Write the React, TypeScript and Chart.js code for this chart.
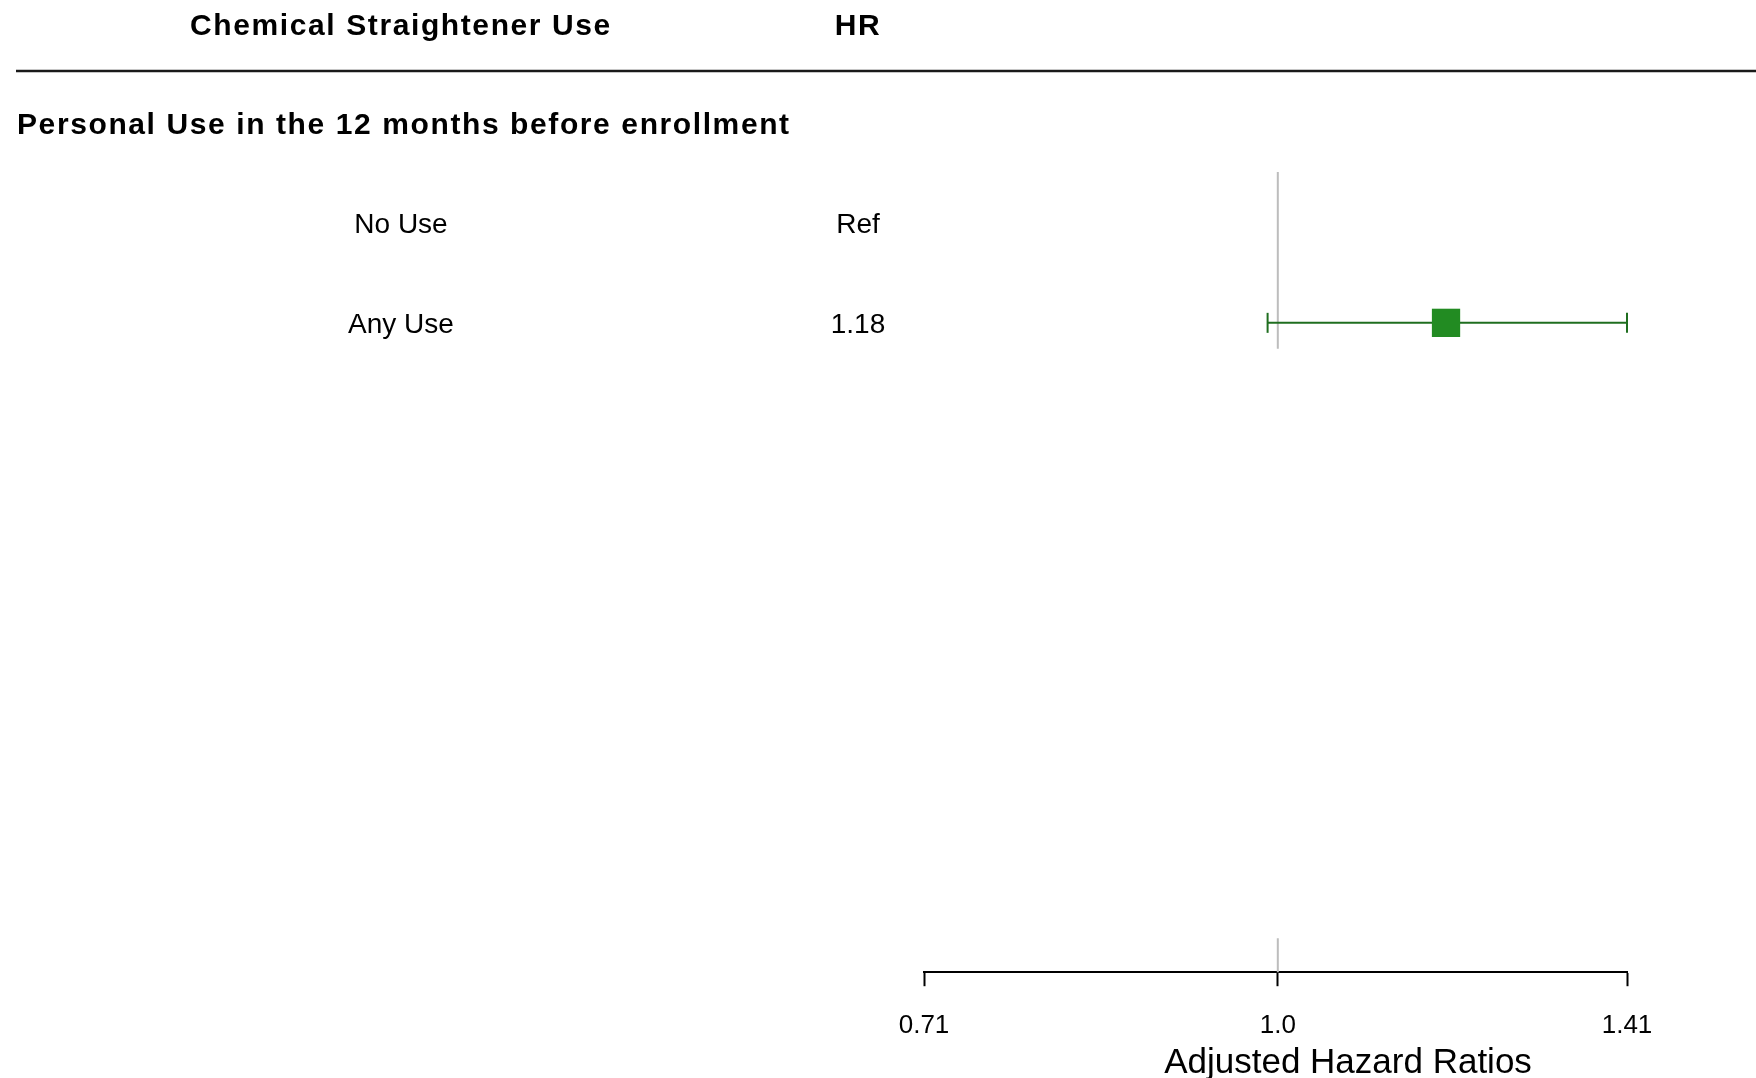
import React, { useEffect, useRef } from "react";
import { Chart, registerables } from "chart.js";

Chart.register(...registerables);

// ---- data ----
const columnHeaders = ["Chemical Straightener Use", "HR"];
const groupLabel = "Personal Use in the 12 months before enrollment";
const categories = ["No Use", "Any Use"];
const hrLabels = ["Ref", "1.18"];
const hrValues: (number | null)[] = [null, 1.18];
const ciLower: (number | null)[] = [null, 0.99];
const ciUpper: (number | null)[] = [null, 1.41];
const axisMin = 0.706;
const axisMax = 1.41;
const tickValues = [0.706, 1.0, 1.41];
const tickLabels = ["0.71", "1.0", "1.41"];
const xAxisTitle = "Adjusted Hazard Ratios";
const referenceValue = 1;

// ---- layout (rows: 0 = header, 1 = group, 2.. = categories) ----
const HEADER_ROW = 0.01;
const GROUP_ROW = 1;
const FIRST_CAT_ROW = 2;
const Y_MIN = 1.49;
const Y_MAX = 9.5;
const RULE_ROW = 0.48;
const REF_SEGMENTS: [number, number][] = [
  [1.49, 3.26],
  [9.16, 9.5],
];
const COL1_X = 401;
const COL2_X = 858;
const GROUP_X = 17;
const TITLE_X = 1348;
const TITLE_Y = 1060;
const FONT = "'Liberation Sans', Arial, sans-serif";

const GREEN_BOX = "#228B22";
const GREEN_LINE = "#1f6e1f";

const textPlugin = {
  id: "forestText",
  afterDraw(chart: any) {
    const ctx: CanvasRenderingContext2D = chart.ctx;
    const ys = chart.scales.y;
    const put = (
      text: string,
      x: number,
      yPix: number,
      size: number,
      bold: boolean,
      align: CanvasTextAlign,
      spacing: string
    ) => {
      ctx.font = `${bold ? "bold " : ""}${size}px ${FONT}`;
      ctx.textAlign = align;
      ctx.textBaseline = "alphabetic";
      (ctx as any).letterSpacing = spacing;
      ctx.fillStyle = "#000";
      ctx.fillText(text, x, yPix + 0.358 * size);
    };
    ctx.save();
    // header
    const hy = ys.getPixelForValue(HEADER_ROW);
    put(columnHeaders[0], COL1_X, hy, 30, true, "center", "1.6px");
    put(columnHeaders[1], COL2_X, hy, 30, true, "center", "1.6px");
    // rule
    const ry = ys.getPixelForValue(RULE_ROW);
    ctx.beginPath();
    ctx.strokeStyle = "#1a1a1a";
    ctx.lineWidth = 2.5;
    ctx.moveTo(16, ry);
    ctx.lineTo(chart.width, ry);
    ctx.stroke();
    // group label
    put(groupLabel, GROUP_X, ys.getPixelForValue(GROUP_ROW), 30, true, "left", "1.6px");
    // rows
    categories.forEach((c, i) => {
      const y = ys.getPixelForValue(FIRST_CAT_ROW + i);
      put(c, COL1_X, y, 28, false, "center", "0px");
      put(hrLabels[i], COL2_X, y, 28, false, "center", "0px");
    });
    // axis title
    put(xAxisTitle, TITLE_X, TITLE_Y, 35, false, "center", "0px");
    ctx.restore();
  },
};

export default function App() {
  const ref = useRef<HTMLCanvasElement | null>(null);

  useEffect(() => {
    if (!ref.current) return;

    const boxData: { x: number; y: number }[] = [];
    const ciSets: any[] = [];
    hrValues.forEach((v, i) => {
      const row = FIRST_CAT_ROW + i;
      if (v !== null) boxData.push({ x: v, y: row });
      const lo = ciLower[i];
      const hi = ciUpper[i];
      if (lo !== null && hi !== null) {
        ciSets.push({
          type: "line",
          data: [
            { x: lo, y: row },
            { x: hi, y: row },
          ],
          borderColor: GREEN_LINE,
          borderWidth: 2,
          pointStyle: "line",
          pointRotation: 90,
          pointRadius: 10,
          pointBorderWidth: 2,
          pointBorderColor: GREEN_LINE,
          pointBackgroundColor: GREEN_LINE,
          clip: false,
          order: 1,
        });
      }
    });

    const refData: { x: number; y: number | null }[] = [];
    REF_SEGMENTS.forEach(([a, b], k) => {
      if (k > 0) refData.push({ x: referenceValue, y: null });
      refData.push({ x: referenceValue, y: a });
      refData.push({ x: referenceValue, y: b });
    });

    const chart = new Chart(ref.current, {
      type: "scatter",
      data: {
        datasets: [
          {
            type: "scatter",
            data: boxData,
            pointStyle: "rect",
            pointRadius: 20,
            pointBackgroundColor: GREEN_BOX,
            pointBorderColor: GREEN_BOX,
            pointBorderWidth: 0,
            clip: false,
            order: 0,
          } as any,
          ...ciSets,
          {
            type: "line",
            data: refData,
            borderColor: "#bdbdbd",
            borderWidth: 2,
            pointRadius: 0,
            spanGaps: false,
            clip: false,
            order: 2,
          } as any,
        ],
      },
      options: {
        responsive: false,
        animation: false,
        devicePixelRatio: 1,
        layout: { padding: { left: 924, right: 129, top: 172, bottom: 12.6 } },
        plugins: {
          legend: { display: false },
          tooltip: { enabled: false },
        },
        scales: {
          x: {
            type: "logarithmic",
            position: "bottom",
            min: axisMin,
            max: axisMax,
            bounds: "data",
            afterBuildTicks: (s: any) => {
              s.ticks = tickValues.map((v) => ({ value: v }));
            },
            ticks: {
              callback: (_v: any, i: number) => tickLabels[i],
              font: { family: FONT, size: 26, lineHeight: 1.2 },
              color: "#000",
              padding: 24,
              maxRotation: 0,
              minRotation: 0,
              autoSkip: false,
            },
            grid: {
              display: true,
              drawOnChartArea: false,
              drawTicks: true,
              tickLength: 14,
              tickWidth: 2,
              tickColor: "#000",
            },
            border: { display: true, color: "#000", width: 2 },
          },
          y: {
            type: "linear",
            display: false,
            min: Y_MIN,
            max: Y_MAX,
            reverse: true,
          },
        },
      } as any,
      plugins: [textPlugin],
    });
    return () => chart.destroy();
  }, []);

  return (
    <div style={{ position: "fixed", left: 0, top: 0, width: 1756, height: 1078, background: "#fff" }}>
      <canvas ref={ref} width={1756} height={1078} style={{ display: "block" }} />
    </div>
  );
}
